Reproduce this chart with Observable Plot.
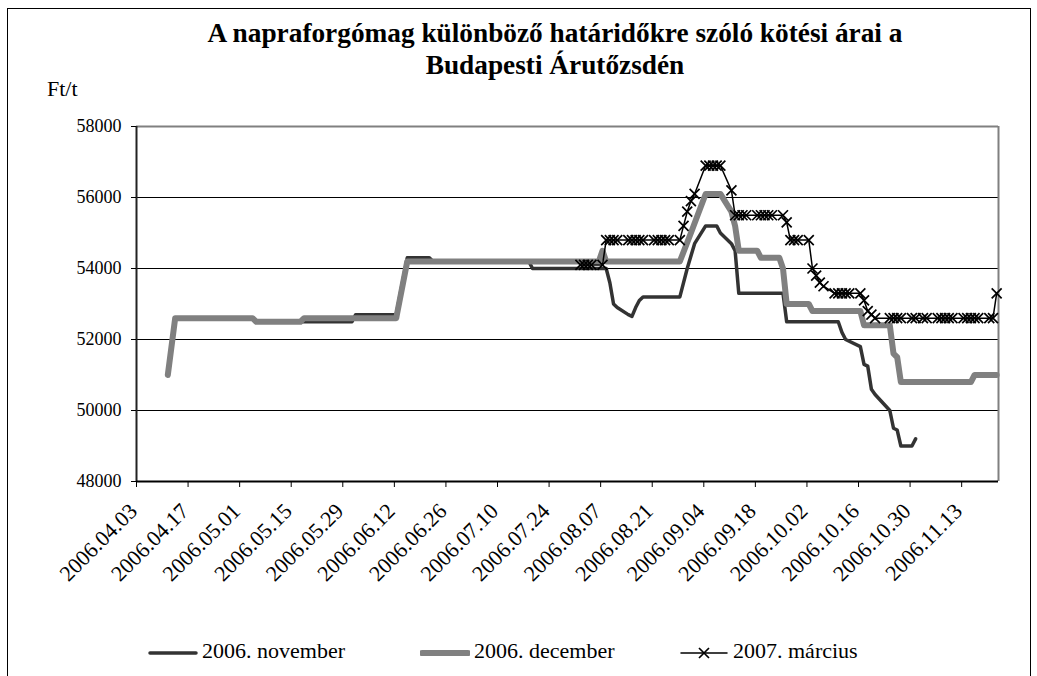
<!DOCTYPE html>
<html><head><meta charset="utf-8">
<script src="https://cdn.jsdelivr.net/npm/d3@7"></script>
<script src="https://cdn.jsdelivr.net/npm/@observablehq/plot@0.6"></script>
<style>
body{margin:0;background:#fff;}
#wrap{position:relative;width:1037px;height:676px;overflow:hidden;font-family:"Liberation Serif","Times New Roman",serif;color:#000;}
#frame{position:absolute;left:7px;top:8px;width:1022px;height:720px;border:1px solid #000;}
#chart{position:absolute;left:0;top:0;}
#title{position:absolute;left:0;width:1110px;top:17px;text-align:center;font-weight:bold;font-size:27.3px;line-height:32px;}
#unit{position:absolute;left:47px;top:76px;font-size:22px;}
#legend{position:absolute;left:0;top:638px;width:1037px;height:26px;font-size:22px;}
.li{position:absolute;top:0;white-space:nowrap;line-height:26px;}
.li svg{vertical-align:middle;margin-right:4px;}
</style>
</head><body>
<div id="wrap">
<div id="frame"></div>
<div id="chart"></div>
<div id="title">A napraforgómag különböző határidőkre szóló kötési árai a<br>Budapesti Árutőzsdén</div>
<div id="unit">Ft/t</div>
<div id="legend"></div>
</div>
<script>
// ---- data ----
const seriesNames = ["2006. november", "2006. december", "2007. március"];

const novDates = ["2006-04-11","2006-04-13","2006-05-04","2006-05-05","2006-05-31","2006-06-01","2006-06-12","2006-06-15","2006-06-21","2006-06-22","2006-07-18","2006-07-19","2006-08-08","2006-08-09","2006-08-10","2006-08-11","2006-08-14","2006-08-15","2006-08-16","2006-08-17","2006-08-18","2006-08-28","2006-08-30","2006-09-01","2006-09-04","2006-09-07","2006-09-08","2006-09-11","2006-09-12","2006-09-13","2006-09-25","2006-09-26","2006-10-10","2006-10-11","2006-10-12","2006-10-16","2006-10-17","2006-10-18","2006-10-19","2006-10-20","2006-10-24","2006-10-25","2006-10-26","2006-10-27","2006-10-30","2006-10-31"];
const novValues = [51000,52600,52600,52500,52500,52700,52700,54300,54300,54200,54200,54000,54000,53600,53000,52900,52700,52650,52900,53100,53200,53200,54000,54700,55200,55200,55000,54700,54500,53300,53300,52500,52500,52200,52000,51800,51300,51250,50600,50450,50000,49500,49450,49000,49000,49200];

const decDates = ["2006-04-11","2006-04-13","2006-05-04","2006-05-05","2006-05-17","2006-05-18","2006-06-12","2006-06-15","2006-08-06","2006-08-07","2006-08-08","2006-08-28","2006-08-31","2006-09-04","2006-09-08","2006-09-11","2006-09-12","2006-09-13","2006-09-18","2006-09-19","2006-09-24","2006-09-25","2006-09-26","2006-10-02","2006-10-03","2006-10-16","2006-10-17","2006-10-24","2006-10-25","2006-10-26","2006-10-27","2006-11-15","2006-11-16","2006-11-22"];
const decValues = [51000,52600,52600,52500,52500,52600,52600,54200,54200,54500,54200,54200,55000,56100,56100,55600,55200,54500,54500,54300,54300,54000,53000,53000,52800,52800,52400,52400,51600,51500,50800,50800,51000,51000];

const marDates = ["2006-08-01","2006-08-02","2006-08-03","2006-08-04","2006-08-07","2006-08-08","2006-08-09","2006-08-10","2006-08-11","2006-08-14","2006-08-15","2006-08-16","2006-08-17","2006-08-18","2006-08-21","2006-08-22","2006-08-23","2006-08-24","2006-08-25","2006-08-28","2006-08-29","2006-08-30","2006-08-31","2006-09-01","2006-09-04","2006-09-05","2006-09-06","2006-09-07","2006-09-08","2006-09-11","2006-09-12","2006-09-13","2006-09-14","2006-09-15","2006-09-18","2006-09-19","2006-09-20","2006-09-21","2006-09-22","2006-09-25","2006-09-26","2006-09-27","2006-09-28","2006-09-29","2006-10-02","2006-10-03","2006-10-04","2006-10-05","2006-10-06","2006-10-09","2006-10-10","2006-10-11","2006-10-12","2006-10-13","2006-10-16","2006-10-17","2006-10-18","2006-10-19","2006-10-20","2006-10-24","2006-10-25","2006-10-26","2006-10-27","2006-10-30","2006-10-31","2006-11-02","2006-11-03","2006-11-06","2006-11-07","2006-11-08","2006-11-09","2006-11-10","2006-11-13","2006-11-14","2006-11-15","2006-11-16","2006-11-17","2006-11-20","2006-11-21","2006-11-22"];
const marValues = [54100,54100,54100,54100,54100,54800,54800,54800,54800,54800,54800,54800,54800,54800,54800,54800,54800,54800,54800,54800,55200,55600,55900,56100,56900,56900,56900,56900,56900,56200,55500,55500,55500,55500,55500,55500,55500,55500,55500,55500,55300,54800,54800,54800,54800,54000,53800,53600,53500,53300,53300,53300,53300,53300,53300,53100,52800,52700,52600,52600,52600,52600,52600,52600,52600,52600,52600,52600,52600,52600,52600,52600,52600,52600,52600,52600,52600,52600,52600,53300];

const xTickDates = ["2006-04-03","2006-04-17","2006-05-01","2006-05-15","2006-05-29","2006-06-12","2006-06-26","2006-07-10","2006-07-24","2006-08-07","2006-08-21","2006-09-04","2006-09-18","2006-10-02","2006-10-16","2006-10-30","2006-11-13"];
const yTicks = [48000,50000,52000,54000,56000,58000];
const xDomain = ["2006-04-03","2006-11-23"];

// ---- build ----
const parse = d3.utcParse("%Y-%m-%d");
const mid = d => new Date(+d + 12*3600e3); // Excel plots each day in the middle of its slot
const toRows = (dates, vals) => dates.map((d,i)=>({date: parse(d), value: vals[i]}));
const nov = toRows(novDates, novValues);
const dec = toRows(decDates, decValues);
const mar = toRows(marDates, marValues);
const x0 = parse(xDomain[0]), x1 = parse(xDomain[1]);
const xTicks = xTickDates.map(parse);
const serif = "Liberation Serif, Times New Roman, serif";

const chart = Plot.plot({
  width: 1037, height: 620,
  marginLeft: 136, marginRight: 39, marginTop: 126, marginBottom: 139,
  style: {fontFamily: serif, fontSize: "18px", color: "#000", background: "transparent", overflow: "visible"},
  x: {type: "utc", domain: [x0, x1], label: null},
  y: {domain: [48000, 58000], label: null},
  marks: [
    Plot.ruleY(yTicks.slice(1, -1), {stroke: "#000", strokeWidth: 1}),
    Plot.ruleY([yTicks[yTicks.length-1]], {stroke: "#808080", strokeWidth: 2}),
    Plot.ruleX([x1], {stroke: "#808080", strokeWidth: 2}),
    Plot.line(nov, {x: d => mid(d.date), y: "value", stroke: "#333", strokeWidth: 3.5}),
    Plot.line(dec, {x: d => mid(d.date), y: "value", stroke: "#808080", strokeWidth: 6}),
    Plot.line(mar, {x: d => mid(d.date), y: "value", stroke: "#000", strokeWidth: 1.5}),
    Plot.dot(mar, {x: d => mid(d.date), y: "value", symbol: "times", r: 4.6, stroke: "#000", strokeWidth: 1.7}),
    Plot.ruleX([x0], {stroke: "#222", strokeWidth: 2}),
    Plot.ruleY([yTicks[0]], {stroke: "#000", strokeWidth: 2}),
    Plot.axisY({ticks: yTicks, tickSize: 5, tickPadding: 10, tickFormat: d => String(d), fontSize: 18, label: null}),
    Plot.axisX({ticks: xTicks, tickSize: 6, text: null, label: null}),
    Plot.axisX({ticks: xTicks, tickSize: 0, tickPadding: 26, tickRotate: -45, tickFormat: d3.utcFormat("%Y.%m.%d"), fontSize: 22, dx: -3, label: null})
  ]
});
document.getElementById("chart").appendChild(chart);

// ---- legend ----
const legendItems = [
  {name: seriesNames[0], left: 148, stroke: "#333", sw: 3.5, marker: false},
  {name: seriesNames[1], left: 420, stroke: "#808080", sw: 6, marker: false},
  {name: seriesNames[2], left: 679, stroke: "#000", sw: 1.5, marker: true}
];
const leg = document.getElementById("legend");
for (const it of legendItems) {
  const div = document.createElement("div");
  div.className = "li";
  div.style.left = it.left + "px";
  const w = 50;
  let svg = `<svg width="${w}" height="14" viewBox="0 0 ${w} 14"><line x1="2" y1="7" x2="${w-2}" y2="7" stroke="${it.stroke}" stroke-width="${it.sw}" stroke-linecap="round"/>`;
  if (it.marker) svg += `<path d="M${w/2-5},2L${w/2+5},12M${w/2-5},12L${w/2+5},2" stroke="#000" stroke-width="1.7"/>`;
  svg += `</svg>`;
  div.innerHTML = svg + it.name;
  leg.appendChild(div);
}
</script>
</body></html>
